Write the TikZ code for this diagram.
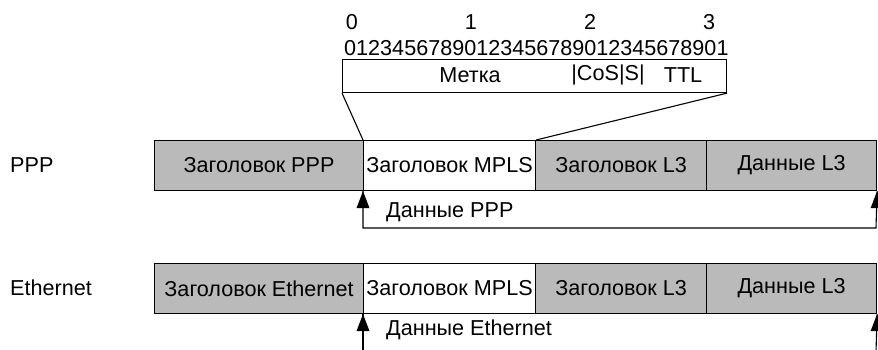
\documentclass[tikz,border=0pt]{standalone}
\usepackage{fontspec}
\setmainfont{Liberation Sans}
\usetikzlibrary{arrows.meta,calc}
\definecolor{boxgray}{RGB}{186,186,186}
\begin{document}
\begin{tikzpicture}[x=1pt,y=-1pt,
  txt/.style={font=\fontsize{21.6}{24}\selectfont, inner sep=0pt},
  cell/.style={txt, draw=black, line width=1.1pt, minimum height=50pt, anchor=north west},
  graycell/.style={cell, fill=boxgray},
  whitecell/.style={cell, fill=white},
  conn/.style={line width=1.1pt},
  head/.style={fill=black}]
\useasboundingbox (0,0) rectangle (878,349);
\clip (0,0) rectangle (878,349);
% bit ruler
\node[txt] (d0) at (352,22) {0};
\node[txt] (d1) at (471,22) {1};
\node[txt] (d2) at (590,22) {2};
\node[txt] (d3) at (709,22) {3};
\node[txt, anchor=west] (bits) at (344,48) {01234567890123456789012345678901};
% label box
\node[txt, draw=black, line width=1.1pt, minimum width=384pt, minimum height=33pt, anchor=north west] (lbl) at (342,59) {};
\node[txt] (metka) at (470,75) {Метка};
\node[txt] (cos) at (608,75) {|CoS|S|};
\node[txt] (ttl) at (683,75) {TTL};
% PPP row
\node[txt, anchor=west] (pppname) at (10,165) {PPP};
\node[graycell, minimum width=209pt] (pppH) at (154,140) {Заголовок PPP};
\node[whitecell, minimum width=172pt] (pppM) at (363,140) {Заголовок MPLS};
\node[graycell, minimum width=171pt] (pppL) at (535,140) {Заголовок L3};
\node[graycell, minimum width=170pt] (pppD) at (706,140) {Данные L3};
\draw[conn] (lbl.south west) -- (pppM.north west);
\draw[conn] (lbl.south east) -- (pppM.north east);
\coordinate (pa) at (363,228);
\coordinate (pb) at (876,228);
\draw[conn] (pppM.south west) -- (pa) -- (pb) -- (pppD.south east);
\fill[head] (pppM.south west) -- ++(-6.5,17) -- ++(13,0) -- cycle;
\fill[head] (pppD.south east) -- ++(-6.5,17) -- ++(13,0) -- cycle;
\node[txt, anchor=west] (pppdata) at (386,212) {Данные PPP};
% Ethernet row
\node[txt, anchor=west] (ethname) at (10,288) {Ethernet};
\node[graycell, minimum width=209pt] (ethH) at (154,263) {Заголовок Ethernet};
\node[whitecell, minimum width=172pt] (ethM) at (363,263) {Заголовок MPLS};
\node[graycell, minimum width=171pt] (ethL) at (535,263) {Заголовок L3};
\node[graycell, minimum width=170pt] (ethD) at (706,263) {Данные L3};
\coordinate (ea) at (363,352);
\coordinate (eb) at (876,352);
\draw[conn] (ethM.south west) -- (ea);
\draw[conn] (ethD.south east) -- (eb);
\fill[head] (ethM.south west) -- ++(-6.5,17) -- ++(13,0) -- cycle;
\fill[head] (ethD.south east) -- ++(-6.5,17) -- ++(13,0) -- cycle;
\node[txt, anchor=west] (ethdata) at (386,330) {Данные Ethernet};
\end{tikzpicture}
\end{document}
